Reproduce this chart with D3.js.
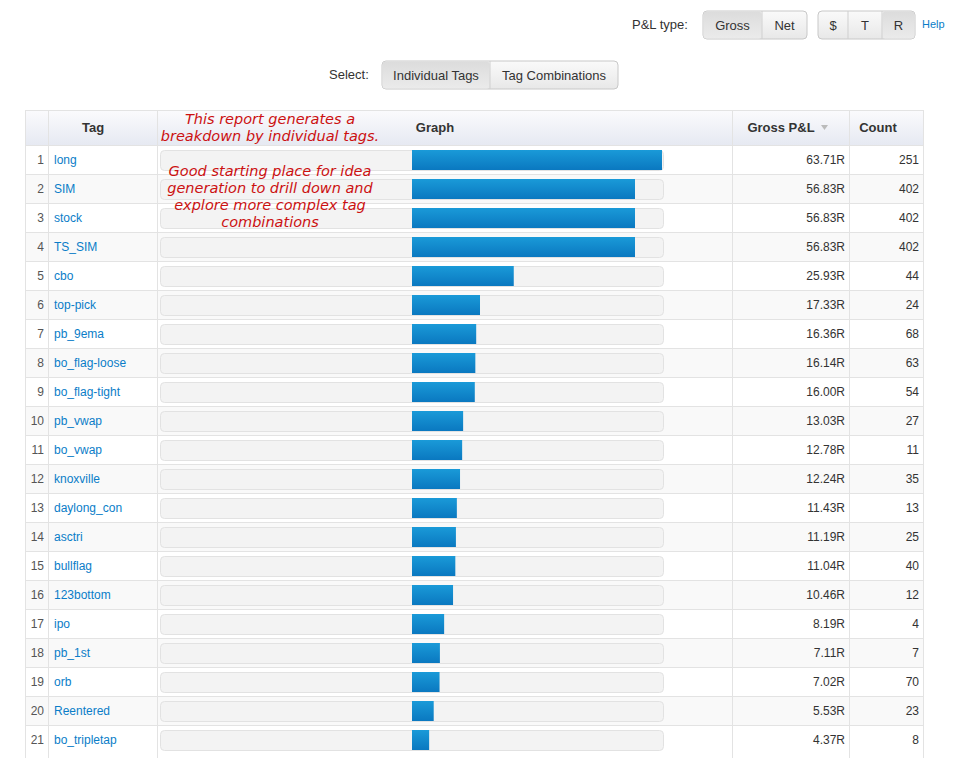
<!DOCTYPE html>
<html><head><meta charset="utf-8">
<script src="https://cdn.jsdelivr.net/npm/d3@7"></script>
<style>body{margin:0;background:#fff;font-family:"Liberation Sans",Arial,sans-serif;}</style>
</head><body><div id="vis"></div>
<script>
const tags = ["long","SIM","stock","TS_SIM","cbo","top-pick","pb_9ema","bo_flag-loose","bo_flag-tight","pb_vwap","bo_vwap","knoxville","daylong_con","asctri","bullflag","123bottom","ipo","pb_1st","orb","Reentered","bo_tripletap"];
const pnl = [63.71,56.83,56.83,56.83,25.93,17.33,16.36,16.14,16.00,13.03,12.78,12.24,11.43,11.19,11.04,10.46,8.19,7.11,7.02,5.53,4.37];
const counts = [251,402,402,402,44,24,68,63,54,27,11,35,13,25,40,12,4,7,70,23,8];

const W = 976, H = 758;
const svg = d3.select("#vis").append("svg").attr("width", W).attr("height", H);
const defs = svg.append("defs");
const gb = defs.append("linearGradient").attr("id","btn").attr("x1",0).attr("x2",0).attr("y1",0).attr("y2",1);
gb.append("stop").attr("offset","0%").attr("stop-color","#fafafa");
gb.append("stop").attr("offset","100%").attr("stop-color","#e8e8e8");
const ga = defs.append("linearGradient").attr("id","btnA").attr("x1",0).attr("x2",0).attr("y1",0).attr("y2",1);
ga.append("stop").attr("offset","0%").attr("stop-color","#dcdcdc");
ga.append("stop").attr("offset","100%").attr("stop-color","#ebebeb");
const gh = defs.append("linearGradient").attr("id","hdr").attr("x1",0).attr("x2",0).attr("y1",0).attr("y2",1);
gh.append("stop").attr("offset","0%").attr("stop-color","#fbfbfd");
gh.append("stop").attr("offset","100%").attr("stop-color","#e6e9f2");
const gbar = defs.append("linearGradient").attr("id","bar").attr("x1",0).attr("x2",0).attr("y1",0).attr("y2",1);
gbar.append("stop").attr("offset","0%").attr("stop-color","#1a9ad8");
gbar.append("stop").attr("offset","100%").attr("stop-color","#0a78c0");

// button groups
function buttons(list, y, active) {
  const x0 = list[0][1], x1 = list[list.length-1][2];
  svg.append("rect").attr("x", x0).attr("y", y).attr("width", x1-x0).attr("height", 28).attr("rx", 4)
    .attr("fill", "url(#btn)").attr("stroke", "#c8c8c8");
  list.forEach(([t, a, b], i) => {
    if (active.includes(t)) svg.append("rect").attr("x", a+0.5).attr("y", y+0.5).attr("width", b-a-1).attr("height", 27).attr("rx", 3).attr("fill", "url(#btnA)");
    if (i > 0) svg.append("line").attr("x1", a).attr("x2", a).attr("y1", y).attr("y2", y+28).attr("stroke", "#cfcfcf");
    svg.append("text").attr("x", (a+b)/2).attr("y", y+19).attr("text-anchor", "middle")
      .attr("font-size", 13).attr("fill", "#333").text(t);
  });
}
svg.append("text").attr("x", 632).attr("y", 29).attr("font-size", 13).attr("fill", "#333").text("P&L type:");
buttons([["Gross",703,762],["Net",762,807]], 11, ["Gross"]);
buttons([["$",818,848],["T",848,882],["R",882,915]], 11, ["R"]);
svg.append("text").attr("x", 922).attr("y", 28).attr("font-size", 11).attr("fill", "#0a7dc8").text("Help");
svg.append("text").attr("x", 329).attr("y", 79).attr("font-size", 13).attr("fill", "#333").text("Select:");
buttons([["Individual Tags",382,490],["Tag Combinations",490,618]], 61, ["Individual Tags"]);

// table
const T = {x0:25, x1:923, top:110, hh:35, rh:29};
const cols = [25, 48, 157, 732, 849, 923];
const rowY = d3.scaleBand().domain(d3.range(tags.length)).range([T.top+T.hh, T.top+T.hh+T.rh*tags.length]);
const x = d3.scaleLinear().domain([-63.71, 63.71]).range([162, 662]);

svg.append("rect").attr("x", T.x0).attr("y", T.top).attr("width", T.x1-T.x0).attr("height", T.hh).attr("fill", "url(#hdr)");
const rows = svg.append("g").selectAll("g").data(tags).join("g").attr("transform", (d,i) => `translate(0,${rowY(i)})`);
rows.append("rect").attr("x", T.x0).attr("width", T.x1-T.x0).attr("height", T.rh)
  .attr("fill", (d,i) => i % 2 ? "#f9f9f9" : "#fff");
rows.append("line").attr("x1", T.x0).attr("x2", T.x1).attr("y1", 0.5).attr("y2", 0.5).attr("stroke", "#e3e3e3");
cols.forEach(c => svg.append("line").attr("x1", c+0.5).attr("x2", c+0.5).attr("y1", T.top).attr("y2", H).attr("stroke", "#e3e3e3"));
svg.append("line").attr("x1", T.x0).attr("x2", T.x1).attr("y1", T.top+0.5).attr("y2", T.top+0.5).attr("stroke", "#e3e3e3");

const hdr = [["Tag",93],["Graph",435],["Gross P&L",781],["Count",878]];
hdr.forEach(([t, cx]) => svg.append("text").attr("x", cx).attr("y", T.top+22).attr("text-anchor", "middle")
  .attr("font-size", 13).attr("font-weight", "bold").attr("fill", "#333").text(t));
svg.append("path").attr("d", "M821,125 l7,0 l-3.5,5 z").attr("fill", "#bbb");

rows.append("text").attr("x", 44).attr("y", 19).attr("text-anchor", "end").attr("font-size", 12).attr("fill", "#555").text((d,i) => i+1);
rows.append("text").attr("x", 54).attr("y", 19).attr("font-size", 12).attr("fill", "#0a7dc8").text(d => d);
rows.append("rect").attr("x", 160.5).attr("y", 5.5).attr("width", 503).attr("height", 20).attr("rx", 4)
  .attr("fill", "#f3f3f3").attr("stroke", "#e2e2e2");
rows.append("rect").attr("x", x(0)).attr("y", 5).attr("height", 20)
  .attr("width", (d,i) => x(pnl[i]) - x(0)).attr("fill", "url(#bar)");
rows.append("text").attr("x", 845).attr("y", 19).attr("text-anchor", "end").attr("font-size", 12).attr("fill", "#333")
  .text((d,i) => pnl[i].toFixed(2) + "R");
rows.append("text").attr("x", 919).attr("y", 19).attr("text-anchor", "end").attr("font-size", 12).attr("fill", "#333")
  .text((d,i) => counts[i]);

// annotations
const note = (lines, y0) => lines.forEach((l, i) => svg.append("text").attr("x", 270).attr("y", y0 + i*17)
  .attr("text-anchor", "middle").attr("font-size", 14.5).attr("font-style", "italic")
  .attr("font-family", "'Comic Sans MS','DejaVu Sans',sans-serif").attr("fill", "#cc1111").text(l));
note(["This report generates a", "breakdown by individual tags."], 124);
note(["Good starting place for idea", "generation to drill down and", "explore more complex tag", "combinations"], 176);
</script></body></html>
